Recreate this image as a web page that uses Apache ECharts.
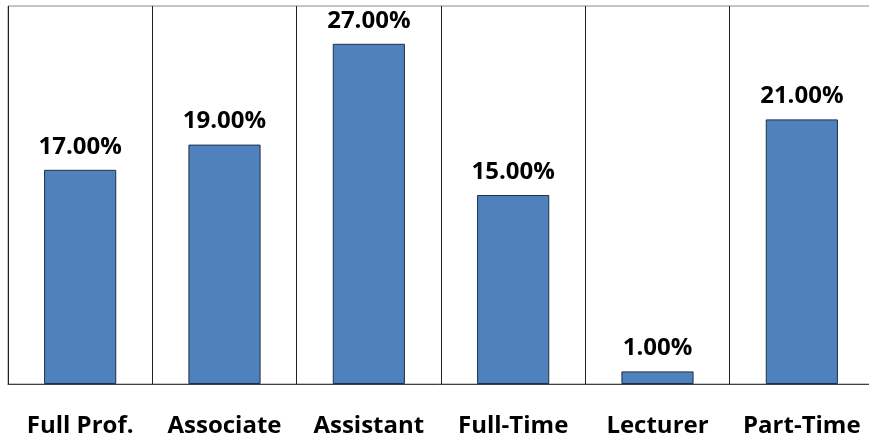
<!DOCTYPE html>
<html>
<head>
<meta charset="utf-8">
<style>
  html, body { margin: 0; padding: 0; background: #ffffff; }
  #chart { width: 869px; height: 438px; }
</style>
<script src="https://cdn.jsdelivr.net/npm/echarts@6/dist/echarts.min.js"></script>
</head>
<body>
<div id="chart"></div>
<script>
// Faculty rank shares (percent)
var categories = ['Full Prof.', 'Associate', 'Assistant', 'Full-Time', 'Lecturer', 'Part-Time'];
var shares = [17, 19, 27, 15, 1, 21];

var chart = echarts.init(document.getElementById('chart'));
var fontFamily = '"Open Sans", "Noto Sans", sans-serif';

chart.setOption({
  animation: false,
  grid: {
    left: 8,
    top: 6,
    width: 866,
    height: 378,
    outerBoundsMode: 'none',
    show: true,
    borderColor: '#8c8c8c',
    borderWidth: 1
  },
  xAxis: {
    type: 'category',
    data: categories,
    boundaryGap: true,
    axisLine: { show: true, lineStyle: { color: '#404040', width: 1 } },
    axisTick: { show: false },
    splitLine: { show: true, interval: 0, lineStyle: { color: '#202020', width: 1 } },
    axisLabel: {
      interval: 0,
      margin: 30,
      color: '#000000',
      fontFamily: fontFamily,
      fontWeight: 'bold',
      fontSize: 24
    }
  },
  yAxis: {
    type: 'value',
    min: 0,
    max: 30,
    show: false,
    splitLine: { show: false }
  },
  series: [{
    type: 'bar',
    data: shares,
    barWidth: '50%',
    itemStyle: {
      color: '#4f81bd',
      borderColor: '#1f2f4a',
      borderWidth: 1
    },
    label: {
      show: true,
      position: 'top',
      distance: 11,
      color: '#000000',
      fontFamily: fontFamily,
      fontWeight: 'bold',
      fontSize: 24,
      formatter: function (p) { return p.value.toFixed(2) + '%'; }
    }
  }]
});
</script>
</body>
</html>
